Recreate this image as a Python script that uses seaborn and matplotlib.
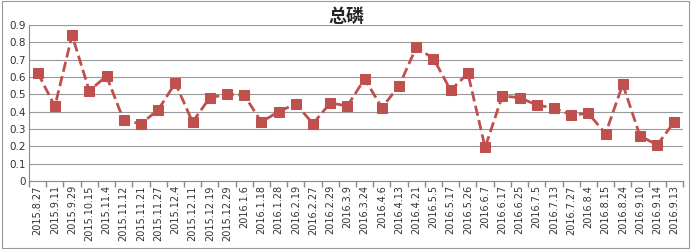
import matplotlib
matplotlib.use("Agg")
import matplotlib.pyplot as plt
import seaborn as sns
import pandas as pd
import numpy as np
from matplotlib.patches import Rectangle

dates = ["2015.8.27", "2015.9.11", "2015.9.29", "2015.10.15", "2015.11.4", "2015.11.12",
         "2015.11.21", "2015.11.27", "2015.12.4", "2015.12.11", "2015.12.19", "2015.12.29",
         "2016.1.6", "2016.1.18", "2016.1.28", "2016.2.19", "2016.2.27", "2016.2.29",
         "2016.3.9", "2016.3.24", "2016.4.6", "2016.4.13", "2016.4.21", "2016.5.5",
         "2016.5.17", "2016.5.26", "2016.6.7", "2016.6.17", "2016.6.25", "2016.7.5",
         "2016.7.13", "2016.7.27", "2016.8.4", "2016.8.15", "2016.8.24", "2016.9.10",
         "2016.9.14", "2016.9.13"]
values = [0.625, 0.43, 0.84, 0.52, 0.605, 0.35, 0.33, 0.41, 0.565, 0.34, 0.48, 0.50,
          0.495, 0.34, 0.40, 0.445, 0.33, 0.45, 0.433, 0.589, 0.423, 0.548, 0.771, 0.706,
          0.523, 0.621, 0.194, 0.49, 0.481, 0.438, 0.421, 0.381, 0.39, 0.273, 0.558, 0.26,
          0.208, 0.342]
yticks = [0, 0.1, 0.2, 0.3, 0.4, 0.5, 0.6, 0.7, 0.8, 0.9]
title = "总磷"

sns.set_theme(style="white")
plt.rcParams['font.family'] = ['DejaVu Sans', 'Noto Sans CJK SC']

df = pd.DataFrame({"pos": np.arange(len(dates)), "date": dates, "value": values})

fig = plt.figure(figsize=(6.92, 2.49), dpi=100)
ax = fig.add_axes([0.042, 0.273, 0.945, 0.627])
color = "#C0504D"
sns.lineplot(data=df, x="pos", y="value", ax=ax, color=color, linestyle="--",
             linewidth=2, marker="s", markersize=7, markeredgecolor=color,
             markerfacecolor=color, sort=False)

ax.set_xlim(-0.5, len(dates) - 0.5)
ax.set_ylim(0, 0.9)
ax.set_yticks(yticks)
ax.set_yticklabels([("0" if v == 0 else f"{v:.1f}") for v in yticks], fontsize=7.5, color="#333333")
ax.set_xticks(df["pos"])
ax.set_xticklabels(dates, rotation=90, fontsize=7, color="#333333")
ax.set_xticks(np.arange(-0.5, len(dates), 1.0), minor=True)
ax.tick_params(axis="x", which="major", length=0, pad=3)
ax.tick_params(axis="x", which="minor", length=4, color="#888888", direction="out", bottom=True)
ax.tick_params(axis="y", length=0, pad=2)
ax.set_xlabel("")
ax.set_ylabel("")
for v in yticks[1:]:
    ax.axhline(v, color="#999999", linewidth=0.8, zorder=0)
for s in ["top", "right"]:
    ax.spines[s].set_visible(False)
ax.spines["left"].set_color("#888888")
ax.spines["bottom"].set_color("#888888")
ax.spines["left"].set_linewidth(0.8)
ax.spines["bottom"].set_linewidth(0.8)

fig.text(0.5, 0.935, title, ha="center", va="center", fontsize=13, fontweight="bold",
         family=["Noto Sans CJK SC", "DejaVu Sans"])
fig.patches.append(Rectangle((0.003, 0.005), 0.993, 0.99, transform=fig.transFigure,
                             fill=False, edgecolor="#999999", linewidth=0.8))
fig.savefig("out.png", dpi=100)
